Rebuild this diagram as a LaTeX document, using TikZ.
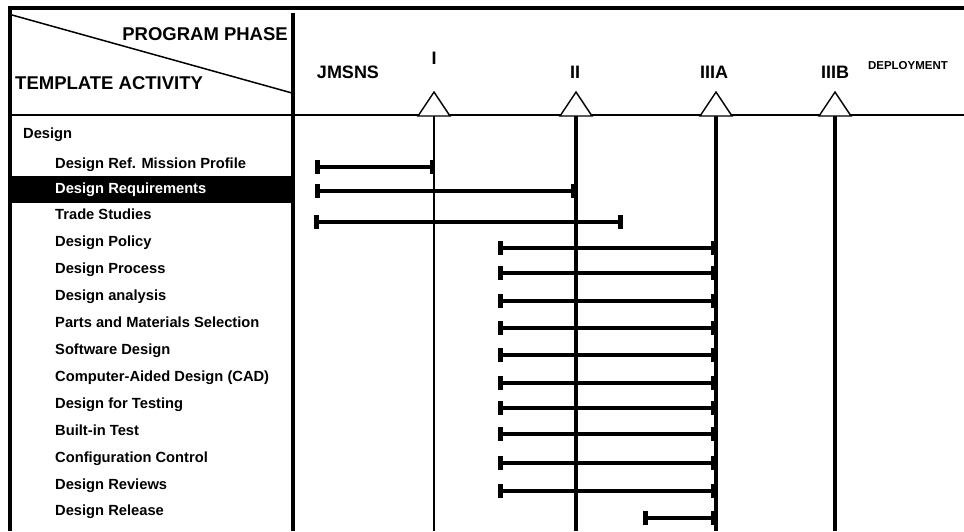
\documentclass[tikz,border=0pt]{standalone}
\usepackage{fontspec}
\setmainfont{Liberation Sans}

\begin{document}
\begin{tikzpicture}[x=1pt,y=-1pt,
  hdr/.style={font=\fontsize{18.5}{20}\selectfont\bfseries, inner sep=0pt, text height=13.2pt, text depth=0pt},
  phase/.style={font=\fontsize{18}{20}\selectfont\bfseries, inner sep=0pt, text height=13pt, text depth=0pt},
  activity/.style={font=\fontsize{14.7}{16}\selectfont\bfseries, anchor=west, inner sep=0pt, text height=10.5pt, text depth=0pt},
  span/.style={line width=#1},
  milestone/.style={draw, fill=white, line width=1.4pt, line join=miter}]

  \useasboundingbox (0,0) rectangle (964,531);

  % frame and header
  \draw[line width=3.5pt] (10,531) -- (10,8) -- (964,8);
  \draw[line width=4pt] (293,13) -- (293,531);
  \draw[line width=2pt] (10,115) -- (964,115);
  \draw[line width=1.5pt] (12,15) -- (292,93);
  \node[hdr, anchor=east] (progphase) at (288,33.5) {PROGRAM PHASE};
  \node[hdr, anchor=west] (tmplact) at (15,83) {TEMPLATE ACTIVITY};

  % milestones
  \foreach \x/\w/\n in {434/2pt/I, 576/4pt/II, 716/4pt/IIIA, 835/4pt/IIIB} {
    \coordinate (ph\n) at (\x,116);
    \draw[line width=\w] (ph\n) -- (\x,531);
    \draw[milestone] (\x-16,116) -- (\x,92) -- (\x+16,116) -- cycle;
  }
  \node[phase] (jmsns) at (348,72) {JMSNS};
  \node[phase] (lblI) at (434,58) {I};
  \node[phase] (lblII) at (575,72) {II};
  \node[phase] (lblIIIA) at (714,72) {IIIA};
  \node[phase] (lblIIIB) at (835,72) {IIIB};
  \node[font=\fontsize{11.5}{13}\selectfont\bfseries, inner sep=0pt] (deploy) at (908,66) {DEPLOYMENT};

  % activities
  \node[activity] (design) at (23,133) {Design};
  \fill (11,176) rectangle (291,203);
  \foreach \ty/\by/\xa/\xb/\lw/\c/\txt [count=\i] in {
    163/167/317.5/432.5/4pt/black/Design Ref. Mission Profile,
    188/191/317.5/573/3.5pt/white/Design Requirements,
    214/222/316.5/620/4pt/black/Trade Studies,
    241/248/500.5/713.5/3.5pt/black/Design Policy,
    268/273/500.5/713.5/4.5pt/black/Design Process,
    295/301/500.5/713.5/4.5pt/black/Design analysis,
    322/328/500.5/713.5/4.5pt/black/Parts and Materials Selection,
    349/355/500.5/713.5/3.5pt/black/Software Design,
    376/383/500.5/713.5/3.5pt/black/Computer-Aided Design (CAD),
    403/408/500.5/713.5/3.5pt/black/Design for Testing,
    430/434/500.5/713.5/4.5pt/black/Built-in Test,
    457/463/500.5/713.5/4pt/black/Configuration Control,
    484/491/500.5/713.5/3.5pt/black/Design Reviews,
    510/518/645.5/713.5/3.5pt/black/Design Release} {
    \node[activity, text=\c] (act\i) at (55,\ty) {\txt};
    \draw[span=\lw] (\xa,\by) -- (\xb,\by);
    % end caps
    \fill (\xa-2.5,\by-7) rectangle (\xa+2.5,\by+7);
    \fill (\xb-2.5,\by-7) rectangle (\xb+2.5,\by+7);
  }
\end{tikzpicture}
\end{document}
